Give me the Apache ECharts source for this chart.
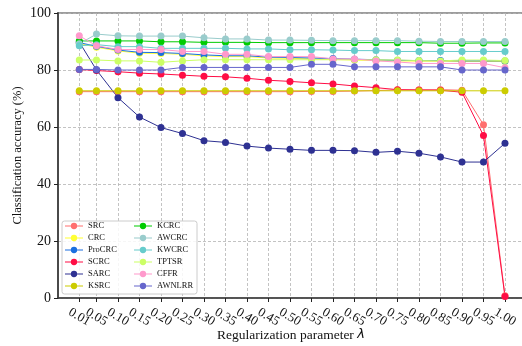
<!DOCTYPE html>
<html>
<head>
<meta charset="utf-8">
<script src="https://cdn.jsdelivr.net/npm/echarts@6/dist/echarts.min.js"></script>
<style>
  html, body { margin: 0; padding: 0; background: #fff; }
  #chart { width: 522px; height: 346px; }
</style>
</head>
<body>
<div id="chart"></div>
<script>
// Regularization parameter values (x axis) and tick labels
const lambdas = [0.01, 0.05, 0.10, 0.15, 0.20, 0.25, 0.30, 0.35, 0.40, 0.45, 0.50,
                 0.55, 0.60, 0.65, 0.70, 0.75, 0.80, 0.85, 0.90, 0.95, 1.00];
const yTicks = [0, 20, 40, 60, 80, 100];

// Classification accuracy (%) for each method
const SRC    = [72.4, 72.4, 72.4, 72.4, 72.4, 72.4, 72.4, 72.4, 72.4, 72.4, 72.4, 72.5, 72.5, 72.6, 72.8, 73.0, 73.0, 73.1, 72.9, 60.8, 0.8];
const CRC    = [89.3, 88.0, 86.7, 85.9, 85.8, 85.5, 85.0, 84.7, 84.7, 84.2, 84.1, 83.9, 83.7, 83.5, 83.3, 83.2, 83.1, 83.1, 83.0, 83.0, 83.0];
const ProCRC = [89.6, 88.3, 87.0, 86.2, 86.1, 85.8, 85.3, 85.0, 85.0, 84.5, 84.4, 84.2, 84.0, 83.8, 83.6, 83.4, 83.3, 83.3, 83.2, 83.2, 83.2];
const SCRC   = [80.2, 79.8, 79.4, 78.9, 78.6, 78.2, 77.8, 77.6, 77.1, 76.4, 76.0, 75.5, 75.1, 74.4, 73.8, 73.1, 73.0, 72.9, 72.2, 57.0, 0.5];
const SARC   = [89.8, 80.0, 70.3, 63.5, 59.8, 57.7, 55.2, 54.6, 53.3, 52.6, 52.2, 51.8, 51.8, 51.7, 51.1, 51.5, 50.8, 49.5, 47.7, 47.7, 54.3];
const KSRC   = [72.7, 72.7, 72.7, 72.7, 72.7, 72.7, 72.7, 72.7, 72.7, 72.7, 72.7, 72.7, 72.7, 72.7, 72.7, 72.7, 72.7, 72.7, 72.7, 72.7, 72.7];
const KCRC   = [90.2, 90.2, 90.2, 90.2, 89.9, 89.9, 89.7, 89.7, 89.7, 89.6, 89.6, 89.6, 89.6, 89.6, 89.6, 89.6, 89.6, 89.4, 89.4, 89.5, 89.5];
const AWCRC  = [89.2, 92.6, 92.0, 91.9, 91.9, 91.9, 91.3, 90.9, 90.9, 90.5, 90.5, 90.4, 90.3, 90.3, 90.3, 90.3, 90.1, 90.0, 90.0, 90.0, 90.0];
const KWCRC  = [88.5, 88.9, 88.2, 88.2, 87.6, 87.6, 87.6, 87.6, 87.4, 87.4, 87.1, 87.1, 87.0, 86.8, 86.8, 86.5, 86.5, 86.5, 86.5, 86.5, 86.5];
const TPTSR  = [83.5, 83.5, 83.2, 83.2, 82.7, 83.2, 83.6, 83.6, 83.6, 83.6, 83.6, 83.6, 83.6, 83.6, 83.6, 83.5, 83.3, 83.2, 83.5, 83.5, 83.3];
const CFFR   = [92.0, 88.5, 87.2, 87.2, 87.2, 86.5, 86.5, 85.5, 85.5, 84.7, 84.7, 84.7, 83.9, 83.9, 83.2, 82.8, 82.3, 82.3, 82.3, 82.3, 80.8];
const AWNLRR = [80.2, 80.2, 80.0, 80.0, 80.0, 80.9, 80.9, 80.9, 80.9, 80.9, 80.9, 82.0, 82.0, 81.1, 81.1, 81.1, 81.1, 81.1, 80.0, 80.0, 80.0];

const methods = [
  { name: 'SRC',    data: SRC,    color: '#FF6F6F' },
  { name: 'CRC',    data: CRC,    color: '#FFFF33' },
  { name: 'ProCRC', data: ProCRC, color: '#1A6FDF' },
  { name: 'SCRC',   data: SCRC,   color: '#FF0D45' },
  { name: 'SARC',   data: SARC,   color: '#2E3192' },
  { name: 'KSRC',   data: KSRC,   color: '#CCCC00' },
  { name: 'KCRC',   data: KCRC,   color: '#00CC00' },
  { name: 'AWCRC',  data: AWCRC,  color: '#99CCCC' },
  { name: 'KWCRC',  data: KWCRC,  color: '#66CCCC' },
  { name: 'TPTSR',  data: TPTSR,  color: '#CCFF66' },
  { name: 'CFFR',   data: CFFR,   color: '#FF99CC' },
  { name: 'AWNLRR', data: AWNLRR, color: '#6666CC' }
];

const serif = 'Liberation Serif, Times New Roman, serif';
const X_MIN = -0.0395, X_MAX = 1.0442;
// legend handle: short line with a dot in the middle
const handleIcon = 'path://M0,4.4L20,4.4L20,5.6L0,5.6Z M13.5,5A3.5,3.5,0,1,1,6.5,5A3.5,3.5,0,1,1,13.5,5Z';

// The tick labels are split over two bottom axes so that closely spaced
// neighbours (0.01/0.05 and 0.95/1.00) are both kept.
const pairedLabels = [lambdas[1], lambdas[lambdas.length - 2]];
const mainLabels = lambdas.filter(v => pairedLabels.indexOf(v) < 0);

const series = methods.map(m => ({
  name: m.name,
  type: 'line',
  xAxisIndex: 0,
  data: lambdas.map((x, i) => [x, m.data[i]]),
  symbol: 'circle',
  symbolSize: 7,
  color: m.color,
  lineStyle: { width: 1, color: m.color },
  itemStyle: { color: m.color },
  emphasis: { disabled: true },
  animation: false
}));

function legendBlock(names, left) {
  return {
    orient: 'vertical',
    left: left,
    top: 221.5,
    padding: 0,
    itemGap: 3,
    itemWidth: 18,
    itemHeight: 9,
    icon: handleIcon,
    z: 20,
    data: names,
    textStyle: { fontFamily: serif, fontSize: 8.5, color: '#111', lineHeight: 9 }
  };
}

function tickLabelStyle(values) {
  return {
    customValues: values,
    formatter: v => v.toFixed(2),
    rotate: -30,
    align: 'center',
    verticalAlign: 'middle',
    margin: 19,
    hideOverlap: false,
    fontFamily: serif,
    fontSize: 13,
    color: '#111'
  };
}

const chart = echarts.init(document.getElementById('chart'), null, { renderer: 'canvas' });
chart.setOption({
  animation: false,
  backgroundColor: '#ffffff',
  grid: {
    left: 58, right: -2, top: 13, bottom: 48,
    outerBoundsMode: 'none',
    containLabel: false,
    show: true, borderColor: '#3c3c3c', borderWidth: 1.2, backgroundColor: 'transparent'
  },
  xAxis: [{
    type: 'value',
    position: 'bottom',
    min: X_MIN,
    max: X_MAX,
    name: '{a|Regularization parameter }{b|λ}',
    nameLocation: 'middle',
    nameGap: 30,
    nameMoveOverlap: false,
    nameTextStyle: {
      rich: {
        a: { fontFamily: serif, fontSize: 13.5, color: '#111' },
        b: { fontFamily: 'DejaVu Sans', fontStyle: 'italic', fontSize: 13, color: '#111' }
      }
    },
    axisLine: { show: true, onZero: false, lineStyle: { color: '#3c3c3c', width: 1.5 } },
    axisTick: { show: true, length: 4, customValues: lambdas, lineStyle: { color: '#222', width: 1 } },
    axisLabel: tickLabelStyle(mainLabels),
    splitLine: { show: true, lineStyle: { color: '#b4b4b4', type: [3, 2], width: 0.8 } }
  }, {
    type: 'value',
    position: 'bottom',
    min: X_MIN,
    max: X_MAX,
    axisLine: { show: false, onZero: false },
    axisTick: { show: false },
    axisLabel: tickLabelStyle(pairedLabels),
    splitLine: { show: false }
  }],
  yAxis: {
    type: 'value',
    min: 0,
    max: 100,
    interval: 20,
    name: 'Classification accuracy (%)',
    nameLocation: 'middle',
    nameGap: 34,
    nameMoveOverlap: false,
    nameTextStyle: { fontFamily: serif, fontSize: 12.5, color: '#111' },
    axisLine: { show: true, onZero: false, lineStyle: { color: '#4a4a4a', width: 2 } },
    axisTick: { show: true, length: 4, lineStyle: { color: '#222', width: 1 } },
    axisLabel: {
      margin: 7,
      fontFamily: serif,
      fontSize: 14,
      color: '#111',
      formatter: v => (yTicks.indexOf(v) >= 0 ? String(v) : '')
    },
    splitLine: { show: true, lineStyle: { color: '#b4b4b4', type: [3, 2], width: 0.8 } }
  },
  legend: [
    legendBlock(methods.slice(0, 6).map(m => m.name), 65),
    legendBlock(methods.slice(6).map(m => m.name), 134)
  ],
  graphic: [{
    type: 'rect',
    z: 10,
    shape: { x: 62, y: 221, width: 135, height: 73, r: 2.5 },
    style: { fill: 'rgba(255,255,255,0.85)', stroke: '#cccccc', lineWidth: 1 }
  }],
  series: series
});
</script>
</body>
</html>
